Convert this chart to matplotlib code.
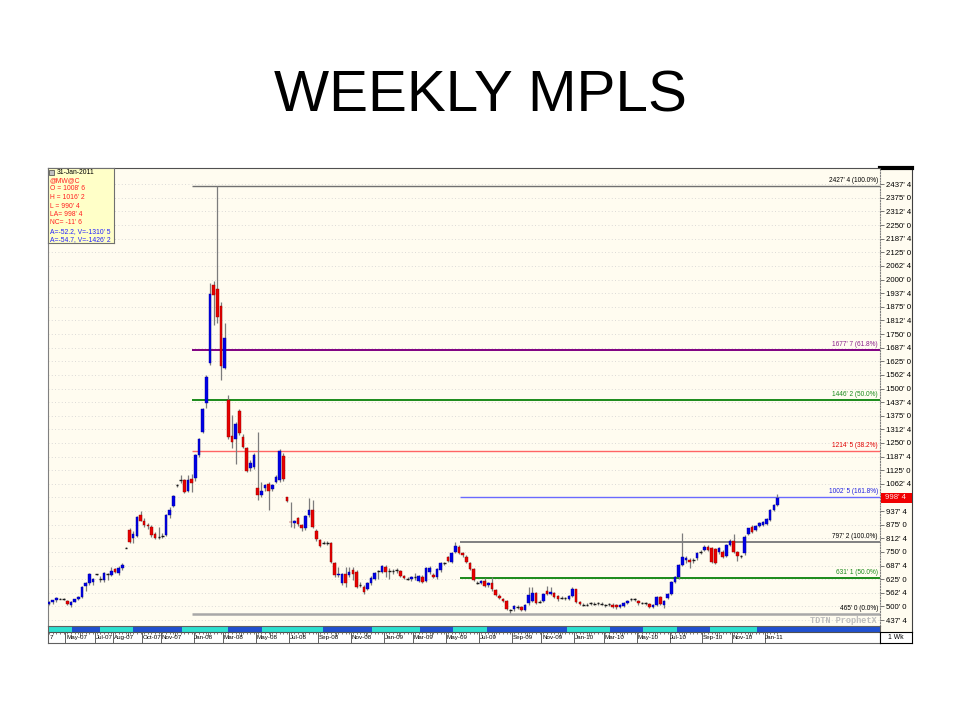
import numpy as np
import pandas as pd
import matplotlib
matplotlib.use('Agg')
import matplotlib.pyplot as plt
import matplotlib.dates as mdates
import matplotlib.transforms as mtrans
from matplotlib.patches import Rectangle

plt.rcParams['font.family'] = ['Liberation Sans', 'DejaVu Sans']

# weekly bars, @MW@C (MGEX wheat), cents/bushel
weeks = pd.date_range('2007-04-02', periods=200, freq='7D')

opens = [
    512, 518, 528, 536, 534, 524, 508, 522, 535, 545,
    592, 606, 612, 647, 624, 621, 646, 644, 670, 652,
    675, 769, 851, 813, 823, 919, 893, 872, 866, 831,
    821, 823, 828, 919, 961, 1057, 1078, 1080, 1031, 1083,
    1088, 1195, 1302, 1435, 1619, 1975, 1956, 1880, 1596, 1447,
    1282, 1267, 1397, 1279, 1228, 1134, 1139, 1042, 1011, 1042,
    1062, 1037, 1072, 1080, 1190, 1000, 889, 881, 904, 873,
    858, 919, 942, 847, 805, 792, 790, 792, 700, 645,
    606, 648, 645, 667, 660, 601, 590, 582, 606, 628,
    662, 660, 680, 662, 661, 667, 662, 640, 628, 626,
    636, 615, 636, 615, 660, 646, 633, 667, 698, 725,
    705, 751, 774, 745, 728, 698, 670, 609, 609, 616,
    597, 606, 575, 549, 534, 525, 483, 488, 499, 496,
    484, 514, 526, 560, 522, 526, 572, 557, 560, 548,
    540, 537, 532, 548, 578, 522, 506, 506, 514, 511,
    514, 511, 506, 509, 508, 506, 496, 502, 514, 532,
    532, 525, 517, 514, 510, 499, 506, 542, 506, 537,
    557, 613, 633, 690, 712, 715, 715, 720, 751, 759,
    774, 766, 762, 748, 751, 731, 782, 802, 751, 731,
    743, 832, 866, 851, 869, 873, 878, 896, 942, 965,
]
highs = [
    525, 530, 545, 540, 537, 528, 524, 536, 548, 592,
    612, 655, 630, 650, 640, 658, 652, 682, 676, 687,
    700, 771, 858, 845, 915, 939, 905, 885, 875, 840,
    866, 835, 922, 955, 1010, 1062, 1103, 1085, 1103, 1108,
    1200, 1275, 1410, 1560, 1984, 1995, 2427.5, 1895, 1800, 1470,
    1380, 1345, 1405, 1290, 1232, 1170, 1205, 1300, 1072, 1062,
    1070, 1062, 1105, 1221, 1205, 1003, 980, 895, 910, 880,
    920, 996, 988, 855, 810, 800, 798, 795, 705, 680,
    655, 682, 682, 682, 668, 612, 598, 610, 640, 660,
    667, 690, 690, 675, 670, 675, 668, 645, 635, 640,
    652, 645, 645, 680, 685, 652, 675, 705, 705, 730,
    750, 797, 780, 750, 735, 702, 675, 615, 622, 630,
    612, 633, 580, 555, 540, 530, 488, 505, 505, 500,
    510, 587, 587, 565, 528, 562, 592, 587, 566, 552,
    548, 542, 552, 590, 582, 526, 514, 514, 520, 518,
    520, 518, 512, 515, 514, 510, 510, 520, 530, 538,
    538, 530, 522, 520, 515, 510, 548, 548, 530, 562,
    618, 640, 695, 838, 730, 722, 722, 748, 760, 782,
    780, 772, 768, 772, 758, 787, 808, 832, 756, 738,
    826, 862, 872, 874, 889, 893, 905, 947, 972, 1016.25,
]
lows = [
    505, 512, 522, 532, 530, 505, 498, 518, 530, 540,
    570, 600, 600, 644, 611, 612, 621, 640, 652, 644,
    668, 766, 790, 790, 818, 890, 866, 855, 820, 810,
    810, 812, 822, 905, 955, 1048, 1065, 1020, 1025, 1026,
    1075, 1185, 1295, 1410, 1610, 1791, 1800, 1539, 1590, 1270,
    1225, 1153, 1285, 1225, 1115, 1120, 1130, 988, 1003, 1030,
    942, 1030, 1065, 1070, 1075, 980, 866, 860, 870, 844,
    850, 912, 862, 800, 772, 785, 780, 700, 636, 636,
    598, 590, 636, 621, 585, 590, 558, 575, 600, 620,
    628, 655, 636, 628, 650, 655, 636, 625, 620, 618,
    621, 610, 608, 610, 650, 630, 628, 660, 690, 705,
    700, 745, 740, 728, 700, 665, 615, 603, 605, 588,
    590, 572, 548, 532, 522, 482, 468, 480, 490, 478,
    478, 508, 520, 512, 515, 520, 552, 550, 540, 526,
    532, 528, 528, 542, 516, 505, 500, 500, 506, 505,
    507, 505, 498, 502, 494, 490, 492, 498, 510, 525,
    526, 508, 510, 506, 494, 494, 500, 505, 494, 532,
    552, 606, 628, 685, 700, 675, 700, 712, 740, 752,
    752, 700, 695, 742, 722, 725, 775, 745, 710, 722,
    736, 826, 838, 846, 864, 868, 874, 890, 936, 960,
]
closes = [
    520, 528, 540, 535, 533, 511, 522, 532, 545, 590,
    606, 649, 626, 647, 626, 652, 648, 664, 660, 675,
    691, 769, 797, 831, 912, 893, 873, 868, 828, 815,
    819, 822, 919, 942, 1008, 1056, 1080, 1026, 1080, 1065,
    1195, 1267, 1404, 1554, 1934, 1930, 1830, 1603, 1730, 1279,
    1256, 1337, 1294, 1233, 1123, 1157, 1195, 1011, 1031, 1057,
    1031, 1057, 1095, 1215, 1083, 985, 886, 893, 878, 862,
    915, 942, 866, 807, 777, 792, 789, 705, 644, 650,
    650, 606, 660, 650, 590, 600, 565, 606, 632, 655,
    662, 685, 660, 661, 662, 666, 640, 630, 627, 634,
    636, 640, 613, 675, 677, 636, 670, 698, 699, 710,
    746, 777, 746, 735, 705, 672, 621, 609, 618, 593,
    609, 578, 552, 537, 526, 486, 483, 502, 499, 484,
    506, 552, 560, 517, 522, 557, 557, 567, 545, 532,
    540, 537, 548, 578, 522, 511, 506, 506, 514, 511,
    514, 511, 506, 509, 499, 496, 506, 517, 525, 532,
    532, 514, 517, 514, 499, 506, 542, 510, 525, 557,
    613, 633, 690, 725, 720, 705, 715, 743, 751, 774,
    759, 705, 700, 766, 728, 782, 802, 751, 731, 731,
    820, 858, 843, 869, 884, 889, 900, 942, 965, 998.5,
]

# fibonacci retracement / extension lines
fib_levels = [2427.5, 1677.875, 1446.25, 1214.625, 1002.625, 797.25, 631.125, 465.0]
fib_labels = ["2427' 4 (100.0%)", "1677' 7 (61.8%)", "1446' 2 (50.0%)", "1214' 5 (38.2%)",
              "1002' 5 (161.8%)", "797' 2 (100.0%)", "631' 1 (50.0%)", "465' 0 (0.0%)"]
fib_start = ['2008-01-01'] * 4 + ['2009-05-27'] * 3 + ['2008-01-01']
fib_line_colors = ['#707070', '#800080', '#1a8a1a', '#ff6464', '#6a6aff', '#808080', '#1a8a1a', '#a8a8a8']
fib_line_widths = [1.0, 1.4, 1.4, 1.0, 1.0, 1.4, 1.4, 1.8]
fib_text_colors = ['#000000', '#8a208a', '#1a8a1a', '#e00000', '#2020e0', '#000000', '#1a8a1a', '#000000']

info_lines = ['31-Jan-2011', '@MW@C', "O = 1008' 6", "H = 1016' 2", "L = 990' 4",
              "LA= 998' 4", "NC= -11' 6", "A=-52.2, V=-1310' 5", "A=-54.7, V=-1426' 2"]
info_colors = ['black'] + ['#ff2020'] * 6 + ['#2020ff'] * 2

month_names = ['May-07', 'Jul-07', 'Aug-07', 'Oct-07', 'Nov-07', 'Jan-08', 'Mar-08', 'May-08',
               'Jul-08', 'Sep-08', 'Nov-08', 'Jan-09', 'Mar-09', 'May-09', 'Jul-09', 'Sep-09',
               'Nov-09', 'Jan-10', 'Mar-10', 'May-10', 'Jul-10', 'Sep-10', 'Nov-10', 'Jan-11']
# contract roll band along the date axis
roll_dates = ['2007-05-16', '2007-07-08', '2007-09-09', '2007-12-12', '2008-03-09', '2008-05-13',
              '2008-09-07', '2008-12-10', '2009-03-12', '2009-05-14', '2009-07-18', '2009-12-18',
              '2010-03-10', '2010-05-12', '2010-07-16', '2010-09-17', '2010-12-16']


def price_fmt(v):
    whole = int(v)
    return "%d' %d" % (whole, int(round((v - whole) * 8)))


def box(l, t, r, b):
    return [l / 960.0, 1 - b / 720.0, (r - l) / 960.0, (b - t) / 720.0]


x = mdates.date2num(weeks)
o, h, l, c = (np.array(a, dtype=float) for a in (opens, highs, lows, closes))
xlim = (x[0] - 1.9, x[0] + 1589)
ylim = (410, 2512)
cream = '#fffcf0'

fig = plt.figure(figsize=(9.6, 7.2), dpi=100)
fig.text(0.5, 1 - 112 / 720.0, 'WEEKLY MPLS', ha='center', va='baseline', fontsize=42)

# right price panel background
side = fig.add_axes(box(880, 168, 912, 632))
side.set_facecolor(cream)
side.set_xticks([])
side.set_yticks([])
for s in ['left', 'bottom']:
    side.spines[s].set_visible(False)
side.spines['top'].set_linewidth(3)
side.spines['right'].set_color('#404040')

ax = fig.add_axes(box(48, 168, 880, 626))
ax.set_facecolor(cream)
ax.set_xlim(*xlim)
ax.set_ylim(*ylim)
ticks = np.arange(437.5, 2437.6, 62.5)
for t in ticks:
    ax.axhline(t, color='#cfcfcf', lw=0.6, ls=(0, (1, 3)), zorder=0)

# candles
w = 5.0
up = c - o >= 3
dn = o - c >= 3
flat = ~(up | dn)
ax.vlines(x, l, h, color='#7c7c7c', lw=0.9, zorder=2)
ax.bar(x[up], (c - o)[up], bottom=o[up], width=w, color='#0000e8', edgecolor='#000090', lw=0.3, zorder=3)
ax.bar(x[dn], (o - c)[dn], bottom=c[dn], width=w, color='#e80000', edgecolor='#900000', lw=0.3, zorder=3)
ax.hlines(c[flat], x[flat] - w / 2, x[flat] + w / 2, color='#1a1a1a', lw=1.0, zorder=3)

# fib lines
for lev, lab, st, lc, lw, tc in zip(fib_levels, fib_labels, fib_start, fib_line_colors,
                                    fib_line_widths, fib_text_colors):
    ax.hlines(lev, mdates.date2num(pd.Timestamp(st)), xlim[1], color=lc, lw=lw, zorder=1.5)
    ax.annotate(lab, xy=(0.9975, lev), xycoords=('axes fraction', 'data'), xytext=(0, 1.5),
                textcoords='offset points', ha='right', va='bottom', fontsize=4.7, color=tc)

# the last-price tag covers the tick label next to it
ax.yaxis.tick_right()
ax.set_yticks(ticks)
ax.set_yticklabels(['' if abs(t - c[-1]) < 30 else price_fmt(t) for t in ticks])
ax.tick_params(axis='y', direction='out', length=3, width=0.6, color='#606060', labelsize=5.6, pad=1)
ax.set_xticks([])
ax.spines['bottom'].set_visible(False)
ax.spines['left'].set_color('#808080')
ax.spines['top'].set_color('#505050')
ax.spines['right'].set_color('#808080')
ax.spines['right'].set_linestyle((0, (1, 1.5)))

bt = mtrans.blended_transform_factory(ax.transAxes, ax.transData)
ax.add_patch(Rectangle((1.0015, c[-1] - 23), 31 / 832.0, 46, transform=bt, facecolor='#f00000',
                       edgecolor='none', clip_on=False, zorder=10))
ax.text(1.006, c[-1], price_fmt(c[-1]), transform=bt, ha='left', va='center', fontsize=5.6,
        color='#ffe0e0', clip_on=False, zorder=11)

ax.text(0.9965, 0.003, 'TDTN ProphetX', transform=ax.transAxes, ha='right', va='bottom',
        fontsize=6.2, family='Liberation Mono', weight='bold', color='#bdbdbd', zorder=4)

# info box
lg = fig.add_axes(box(48, 168, 114, 243))
lg.set_facecolor('#ffffc8')
lg.set_xticks([])
lg.set_yticks([])
for s in lg.spines.values():
    s.set_color('#707070')
for k, (txt, col) in enumerate(zip(info_lines, info_colors)):
    ypx = 172 + 8.5 * k
    xpx = 57 if k == 0 else 50
    lg.text((xpx - 48) / 66.0, 1 - (ypx - 168) / 75.0, txt, transform=lg.transAxes, ha='left',
            va='center', fontsize=4.9, color=col)
lg.add_patch(Rectangle((1.2 / 66, 1 - 7 / 75.0), 4.5 / 66, 5 / 75.0, transform=lg.transAxes,
                       facecolor='#c0c0c0', edgecolor='#404040', lw=0.5))

# date strip
strip = fig.add_axes(box(48, 626, 880, 643))
strip.set_xlim(*xlim)
strip.set_ylim(0, 17)
strip.set_facecolor('white')
strip.set_xticks([])
strip.set_yticks([])
for s in strip.spines.values():
    s.set_color('#606060')
edges = [xlim[0]] + list(mdates.date2num(pd.to_datetime(roll_dates))) + [xlim[1]]
for k in range(len(edges) - 1):
    strip.fill_between([edges[k], edges[k + 1]], 11.5, 16.3,
                       color='#2ee0d0' if k % 2 == 0 else '#2050d0', lw=0)
strip.axhline(11.2, color='#505050', lw=0.8)
strip.vlines(x, 8.6, 11, color='#606060', lw=0.6)

# month separators sit half a week before the first bar of each month
wk_period = weeks.to_period('M')
first_bar = pd.Series(x, index=wk_period).groupby(level=0).first()
month_sep = first_bar.values - 3.5
strip.vlines(month_sep[1:], 7, 11, color='#606060', lw=0.6)
label_sep = first_bar.loc[pd.PeriodIndex(pd.to_datetime(month_names, format='%b-%y'), freq='M')].values - 3.5
strip.vlines(label_sep, 0, 11, color='#606060', lw=0.7)
for mx, name in zip(label_sep, month_names):
    strip.text(mx + 1.2, 5.2, name, ha='left', va='center', fontsize=4.5)
strip.text(0.002, 5.2 / 17, '7', transform=strip.transAxes, ha='left', va='center', fontsize=4.5)

wk = fig.add_axes(box(880, 632, 912, 643))
wk.set_xticks([])
wk.set_yticks([])
wk.set_facecolor('white')
wk.text(0.5, 0.5, '1 Wk', ha='center', va='center', fontsize=4.9)

fig.savefig('out.png', dpi=100)
